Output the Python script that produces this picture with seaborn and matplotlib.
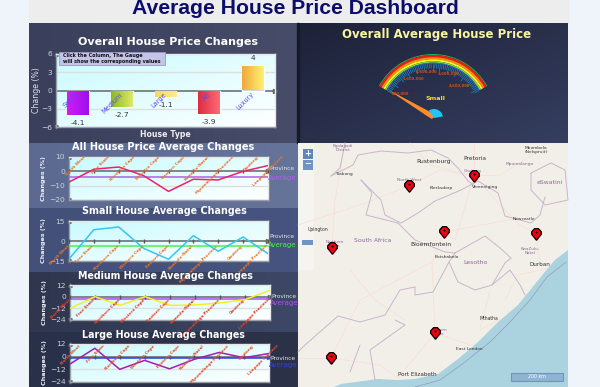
#!/usr/bin/env python3

import numpy as np
import pandas as pd
import seaborn as sns
from matplotlib import pyplot as plt
from matplotlib.patches import Polygon, Rectangle, Wedge
from matplotlib.path import Path

W, H = 600, 387

house_types = ["Small", "Medium", "Large", "All", "Luxury"]
overall_changes = [-4.1, -2.7, -1.1, -3.9, 4.0]
bar_gradients = [("#d21cf2", "#9a10ee"), ("#8db820", "#dcea6a"), ("#f6d860", "#ffec90"),
                 ("#dd2c40", "#ff6a78"), ("#efa83c", "#fff270")]

provinces = ["North West", "Free State", "Northern Cape", "Western Cape", "Eastern Cape",
             "Kwazulu-Natal", "Mpumalanga Province", "Gauteng", "Limpopo Province"]
all_changes = [-7.5, 1.5, 3.0, -3.0, -14.0, -5.5, -6.0, 0.0, 4.0]
small_changes = [-13.5, 8.5, 10.5, -5.5, -13.7, 4.0, -7.7, 3.0, -9.5]
medium_changes = [-12.0, 0.0, -9.0, 0.0, -9.0, -8.5, -6.5, -3.0, 6.5]
large_changes = [-7.0, 8.0, -12.0, -3.5, -11.5, -2.5, 4.0, -1.0, 3.0]

gauge_labels = ["600,000", "1,600,000", "2,600,000", "3,600,000", "4,600,000"]

pin_x = [409, 474, 444, 536, 332, 435, 331]
pin_y = [186, 176, 232, 234, 248, 333, 358]


def px_axes(fig, x0, y0, x1, y1, zorder=1):
    return fig.add_axes([x0 / W, 1 - y1 / H, (x1 - x0) / W, (y1 - y0) / H], zorder=zorder)


def hex_rgb(c):
    return [int(c[i:i + 2], 16) / 255 for i in (1, 3, 5)]


def gradient(c0, c1, diag=False, n=64):
    a, b = np.array(hex_rgb(c0)), np.array(hex_rgb(c1))
    u, v = np.meshgrid(np.linspace(0, 1, n), np.linspace(0, 1, n))
    t = (u + v) / 2 if diag else u
    return a + (b - a) * t[..., None]


def plot_bg(ax):
    ax.imshow(gradient("#c8fbff", "#ffffff", diag=True), extent=(0, 1, 0, 1), aspect="auto",
              transform=ax.transAxes, zorder=0)


def style_axes(ax, yticks):
    ax.set_yticks(yticks)
    ax.set_xticks([])
    ax.set_xlabel("")
    for s in ax.spines.values():
        s.set_color("#9aa0a8")
        s.set_linewidth(1.0)
    ax.spines["top"].set_color("#e8e8e8")
    ax.spines["right"].set_color("#e8e8e8")
    for t in yticks:
        if t != 0:
            ax.axhline(t, color="#dcdfe0", lw=1.0, zorder=1)
    ax.axhline(0, color="#808488", lw=1.4, zorder=2)
    ax.plot([1.0], [0], ">", color="#666666", ms=3, transform=ax.get_yaxis_transform(), clip_on=False)
    ax.plot([0], [1.0], "^", color="#666666", ms=2.5, transform=ax.transAxes, clip_on=False)
    ax.plot([0], [0], "v", color="#666666", ms=2.5, transform=ax.transAxes, clip_on=False)


def draw_bar_chart(fig):
    ax = px_axes(fig, 56, 54, 275, 127)
    df = pd.DataFrame({"type": house_types, "change": overall_changes})
    sns.barplot(data=df, x="type", y="change", width=0.5, color="#cccccc", ax=ax, zorder=3)
    ax.set_xlim(-0.5, 4.5)
    ax.set_ylim(-6, 6)
    plot_bg(ax)
    for i, patch in enumerate(ax.patches):
        x, y, w, h = patch.get_x(), patch.get_y(), patch.get_width(), patch.get_height()
        c0, c1 = bar_gradients[i]
        im = ax.imshow(gradient(c0, c1), extent=(x, x + w, y, y + h), aspect="auto", zorder=3.1)
        im.set_clip_path(patch)
        val = overall_changes[i]
        ax.annotate(f"{val:g}", (i, val), xytext=(0, 8 if val > 0 else -8), textcoords="offset pixels",
                    ha="center", va="center", fontsize=5.4, color="#333333", zorder=6)
        ax.annotate(house_types[i], (i, 0), xytext=(2, -1), textcoords="offset pixels", ha="right", va="top",
                    rotation=45, fontsize=4.8, color="#5a4cf5", zorder=6)
    ax.set_xlim(-0.5, 4.5)
    ax.set_ylim(-6, 6)
    style_axes(ax, [-6, -3, 0, 3, 6])
    ax.tick_params(axis="y", length=0, pad=3, labelsize=5.4, labelcolor="#ccd0dc")
    ax.set_ylabel("Change (%)", fontsize=5.6, color="#dfe2ea", labelpad=0)
    ax.set_xlabel("House Type", fontsize=5.6, color="#eeeeee", labelpad=2, fontweight="bold")


def draw_line_chart(fig, box, values, ylim, yticks, color, avg, avg_color, lab_color, lab_dx, lab_top, leg_y):
    x0, y0, x1, y1 = box
    ax = px_axes(fig, x0, y0, x1, y1)
    plot_bg(ax)
    df = pd.DataFrame({"province": provinces, "change": values})
    style_axes(ax, yticks)
    ax.axhline(avg, color=avg_color, lw=1.1, zorder=3)
    sns.lineplot(data=df, x="province", y="change", color=color, lw=1.1, sort=False, ax=ax, zorder=4)
    ax.set_xlim(0, len(provinces) - 1)
    ax.set_ylim(*ylim)
    ax.set_xticks([])
    ax.set_xlabel("")
    ax.tick_params(axis="y", length=0, pad=3, labelsize=5.4, labelcolor="#ccd0dc")
    ax.set_ylabel("Changes (%)", fontsize=4.6, color="#eef0f5", fontweight="bold", labelpad=2)
    y_frac = (y1 - lab_top) / (y1 - y0)
    for i, name in enumerate(provinces):
        ax.plot([i], [0], "|", color="#555555", ms=3, zorder=3, clip_on=False)
        ax.annotate(name, (i, y_frac), xycoords=ax.get_xaxis_transform(), xytext=(lab_dx, 0),
                    textcoords="offset pixels", ha="right", va="top", rotation=45, fontsize=3.0,
                    fontweight="bold", color=lab_color, zorder=6, annotation_clip=False)
    ax.text(x1 + 1, leg_y[0], "Province", transform=fig_px, fontsize=4.2, color="#e4e6ee", va="center",
            clip_on=False)
    ax.text(x1 + 0, leg_y[1], "Average", transform=fig_px, fontsize=5, color=avg_color, va="center",
            clip_on=False)


def draw_backgrounds(bg):
    bg.add_patch(Rectangle((0, 0), W, H, color="#eef4f9", zorder=0))
    bg.add_patch(Rectangle((29, 0), 539, 23, color="#ededed", zorder=0))
    panels = [("#3a405c", "#474d69", 23, 143), ("#5c6a92", "#66749a", 143, 208),
              ("#42507a", "#475480", 208, 272), ("#2f364e", "#3d4866", 272, 332),
              ("#29304a", "#2c3348", 332, 387)]
    for c0, c1, y0, y1 in panels:
        bg.imshow(gradient(c0, c1), extent=(29, 298, y1, y0), aspect="auto", zorder=2)
    bg.imshow(gradient("#1d2238", "#363e60", diag=True), extent=(298, 568, 143, 23), aspect="auto", zorder=2)
    bg.add_patch(Rectangle((297, 23), 1.5, 120, color="#15192a", zorder=3))
    bg.set_xlim(0, W)
    bg.set_ylim(H, 0)


def draw_gauge(top):
    cx, cy = 433, 116
    bands = [(62, 1, "#22b14c"), (61, 2.2, "#ee1c10"), (58.8, 2, "#ff8c10"), (56.8, 2, "#fff020"),
             (54.8, 1.5, "#70e040"), (53.3, 1, "#4060c0")]
    for r, w, c in bands:
        top.add_patch(Wedge((cx, cy), r, 209, 331, width=w, color=c, lw=0))
    for a in np.linspace(209, 331, 61):
        t = np.radians(a)
        r0 = 45 if int(round((a - 209) / 2)) % 5 == 0 else 48
        top.plot([cx + r0 * np.cos(t), cx + 52 * np.cos(t)], [cy + r0 * np.sin(t), cy + 52 * np.sin(t)],
                 color="#1f7fb8", lw=0.6)
    lab_x = [400, 413, 426, 449, 460]
    lab_y = [94, 79, 72, 74, 86]
    for x, y, s in zip(lab_x, lab_y, gauge_labels):
        top.text(x, y, s, fontsize=2.8, color="#c8501c", ha="center", va="center", fontweight="bold")
    top.text(435, 99, "Small", fontsize=4.6, color="#f0e020", ha="center", va="center", fontweight="bold")
    top.add_patch(Polygon([(387, 89), (427, 116), (432, 119), (436, 115)], color="#ff8c28", lw=0))
    top.add_patch(Wedge((434, 118), 9, 235, 350, color="#22c4f4", lw=0))


def draw_map(top):
    top.add_patch(Rectangle((298, 143), 270, 244, color="#f2efe9", lw=0))
    sea = [(568, 250), (555, 260), (548, 268), (531, 289), (518, 305), (498, 322), (478, 342), (458, 359),
           (438, 374), (415, 379), (398, 380), (378, 379), (341, 384), (334, 387), (568, 387)]
    top.add_patch(Polygon(sea, color="#aad3df", lw=0))
    sea_line = [(566, 262), (547, 277), (530, 300), (510, 322), (490, 342), (465, 362), (440, 380), (415, 387)]
    top.plot(*zip(*sea_line), color="#8f9db8", lw=0.5)
    roads = [[(298, 225), (360, 205), (409, 186), (440, 170), (474, 176)],
             [(474, 176), (455, 240), (444, 232), (432, 262), (360, 300), (331, 358)],
             [(474, 176), (500, 205), (520, 225), (536, 234), (540, 262)],
             [(444, 232), (520, 218)], [(432, 262), (435, 333), (470, 345)],
             [(331, 358), (298, 358)], [(331, 358), (380, 365), (398, 378)],
             [(435, 333), (398, 378)], [(490, 290), (480, 330), (498, 320)],
             [(474, 143), (474, 176)], [(410, 143), (430, 165), (474, 176)],
             [(540, 150), (500, 175), (474, 176)], [(345, 143), (335, 200), (332, 248)],
             [(505, 300), (518, 275), (548, 268)], [(350, 270), (375, 300), (405, 320)]]
    for r in roads:
        top.plot(*zip(*r), color="#f8e0d6", lw=0.6)
    borders = [[(331, 176), (353, 165), (358, 155), (381, 151), (408, 153), (431, 150), (448, 158), (458, 168),
                (468, 181), (475, 186)],
               [(361, 180), (381, 200), (385, 215), (401, 223), (418, 213), (435, 201), (461, 190), (478, 181),
                (498, 193), (505, 216), (531, 223), (540, 215), (545, 197)],
               [(531, 173), (551, 163), (565, 170), (568, 200), (545, 205), (531, 190), (531, 173)],
               [(398, 223), (415, 240), (445, 252), (455, 253), (485, 236), (500, 248), (511, 258), (505, 263),
                (492, 285), (475, 290), (458, 282), (449, 262), (455, 253)],
               [(298, 352), (305, 345), (338, 316), (360, 322), (385, 315), (400, 290), (415, 287), (415, 295),
                (433, 292), (449, 262)],
               [(492, 285), (510, 270), (520, 285), (525, 295)],
               [(345, 143), (340, 168), (331, 176)],
               [(361, 180), (372, 193), (366, 215), (398, 223)],
               [(360, 345), (350, 372)], [(395, 320), (405, 325), (370, 350), (375, 380)]]
    for b in borders:
        top.plot(*zip(*b), color="#c9b6cc", lw=0.7)
    dark = [("Rustenburg", 434, 162, 4.3), ("Pretoria", 475, 158, 4.2), ("Tsabong", 344, 174, 3.2),
            ("Klerksdorp", 441, 188, 3.2), ("Vereeniging", 485, 187, 3.2), ("Newcastle", 524, 219, 3.2),
            ("Upington", 318, 229, 3.3), ("Bloemfontein", 431, 245, 4.4), ("Botshabelo", 447, 257, 3.2),
            ("Durban", 540, 265, 4.1), ("Mthatha", 489, 318, 3.3), ("East London", 469, 349, 3.2),
            ("Port Elizabeth", 417, 374, 4.1), ("Mbombela\n(Nelspruit)", 536, 150, 3.2)]
    for s, x, y, fs in dark:
        top.text(x, y, s, fontsize=fs, color="#333333", ha="center", va="center")
    purple = [("South Africa", 373, 241, 4.4), ("Lesotho", 475, 263, 4.4), ("eSwatini", 550, 183, 4.4),
              ("North West", 409, 180, 3.2), ("Gauteng", 473, 171, 3), ("Mpumalanga", 520, 164, 3.2),
              ("KwaZulu-\nNatal", 530, 251, 3), ("Northern\nCape", 335, 244, 3), ("Eastern\nCape", 439, 332, 3),
              ("Kgalagadi\nDistrict", 343, 148, 3)]
    for s, x, y, fs in purple:
        top.text(x, y, s, fontsize=fs, color="#8b6a96", ha="center", va="center")
    pin = Path([(0, -1.2), (-1, 0.05), (-1, 0.55), (-0.4, 1.2), (0.4, 1.2), (1, 0.55), (1, 0.05), (0, -1.2)])
    sns.scatterplot(x=pin_x, y=pin_y, marker=pin, s=70, color="#f00010", edgecolor="black", linewidth=0.9,
                    ax=top, zorder=5)
    sns.scatterplot(x=pin_x, y=[v - 2 for v in pin_y], marker="o", s=2.5, color="black", linewidth=0, ax=top, zorder=6)
    top.add_patch(Rectangle((298, 143), 16, 127, color="#ffffff", alpha=0.35, lw=0))
    top.add_patch(Rectangle((303, 149), 10, 10, color="#5f86bd", lw=0))
    top.add_patch(Rectangle((303, 159.5), 10, 10, color="#6f94c4", lw=0))
    top.text(308, 153.5, "+", fontsize=6, color="white", ha="center", va="center", fontweight="bold")
    top.text(308, 164, "\u2212", fontsize=6, color="white", ha="center", va="center", fontweight="bold")
    top.add_patch(Rectangle((302, 240), 11, 5, color="#6f94c4", lw=0))
    top.add_patch(Rectangle((511, 373), 52, 8, fc="#8fb4cf", ec="#6f94c4", lw=0.8))
    top.text(537, 377, "200 km", fontsize=3.4, color="white", ha="center", va="center")


fig_px = None


def main():
    global fig_px
    sns.set_theme(style="white")
    plt.rcParams["font.family"] = ["DejaVu Sans"]

    fig = plt.figure(figsize=(W / 100, H / 100), dpi=100)
    bg = px_axes(fig, 0, 0, W, H, zorder=0)
    bg.axis("off")
    draw_backgrounds(bg)

    top = px_axes(fig, 0, 0, W, H, zorder=5)
    top.patch.set_alpha(0)
    top.axis("off")
    top.set_xlim(0, W)
    top.set_ylim(H, 0)
    fig_px = top.transData

    draw_bar_chart(fig)
    draw_line_chart(fig, (69, 157, 268, 200), all_changes, (-20, 10), [-20, -10, 0, 10],
                    "#f0206a", -4, "#b060e8", "#e8742c", 17, 155, (168.5, 178))
    draw_line_chart(fig, (69, 221, 268, 261), small_changes, (-15, 15), [-15, 0, 15],
                    "#30c8ee", -4, "#50f040", "#e8742c", 1, 244, (237, 244.5))
    draw_line_chart(fig, (70, 285, 270, 320), medium_changes, (-24, 12), [-24, -12, 0, 12],
                    "#f4f020", -2.5, "#b050f0", "#e83c20", 1, 298, (297, 302.5))
    draw_line_chart(fig, (70, 344, 269, 382), large_changes, (-24, 12), [-24, -12, 0, 12],
                    "#a81cb0", -1, "#3040e0", "#e8502c", 11, 344, (359, 365))

    title_kw = dict(color="white", ha="center", va="center", fontweight="bold")
    top.text(168, 42, "Overall House Price Changes", fontsize=8, **title_kw)
    top.text(163, 147, "All House Price Average Changes", fontsize=7, **title_kw)
    top.text(164, 211, "Small House Average Changes", fontsize=6.9, **title_kw)
    top.text(165, 276, "Medium House Average Changes", fontsize=6.85, **title_kw)
    top.text(163, 335, "Large House Average Changes", fontsize=6.85, **title_kw)
    top.text(437, 34.5, "Overall Average House Price", fontsize=8.5, color="#f8f6a0", ha="center", va="center",
             fontweight="bold")
    top.text(295, 9, "Average House Price Dashboard", fontsize=15.2, color="#0c0c6a", ha="center", va="center",
             fontweight="bold", family="Liberation Sans")

    draw_gauge(top)
    draw_map(top)
    top.set_xlim(0, W)
    top.set_ylim(H, 0)

    top.add_patch(Rectangle((58.5, 52), 106, 13, fc="#c4c4e8", ec="#9a9ac0", lw=0.6, zorder=7))
    top.text(63, 58.5, "Click the Column, The Gauge\nwill show the corresponding values", fontsize=3.5,
             color="#111111", va="center", fontweight="bold", zorder=8, linespacing=1.2)

    fig.savefig("out.png", dpi=100)
    plt.close(fig)


if __name__ == '__main__':
    main()
